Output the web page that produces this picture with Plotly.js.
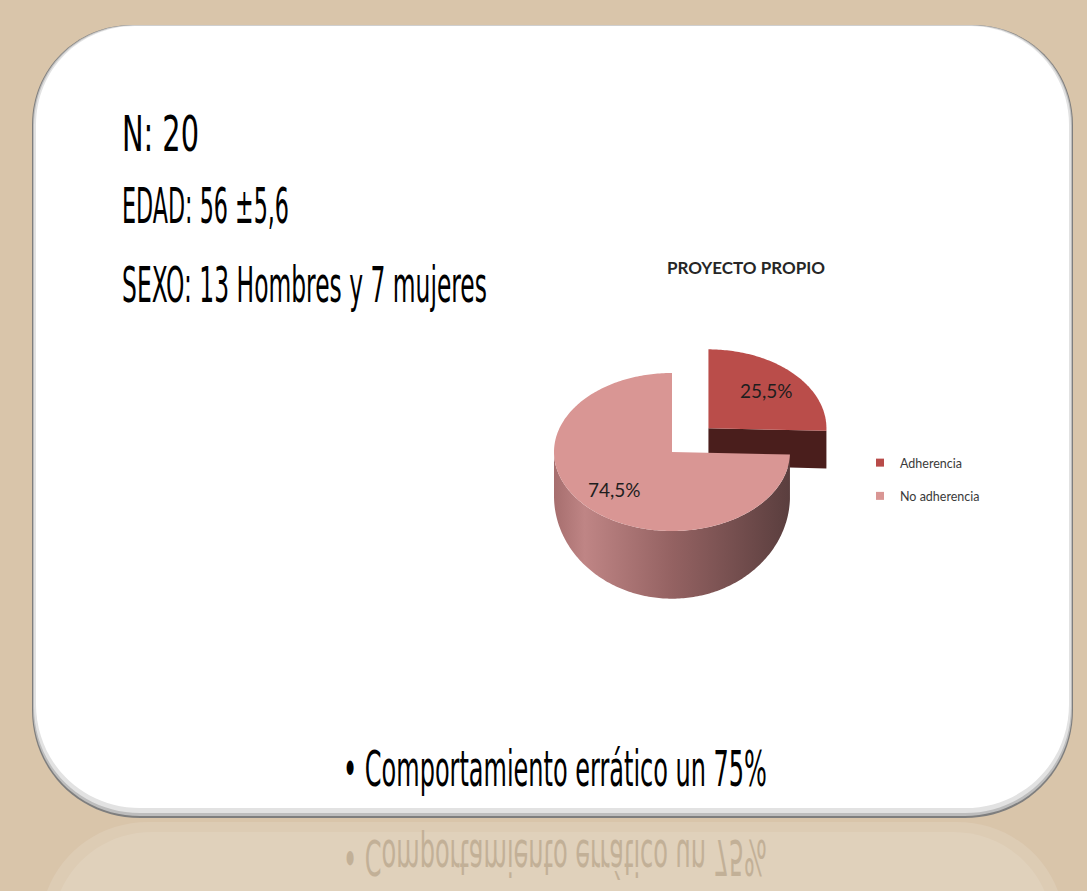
<!DOCTYPE html>
<html><head><meta charset="utf-8">
<script src="https://cdn.plot.ly/plotly-3.0.1.min.js"></script>
<style>html,body{margin:0;padding:0;background:#D9C5AA;overflow:hidden;} #chart{width:1087px;height:891px;}</style>
</head><body><div id="chart"></div>
<script>
// ---------- data ----------
const categories = ['Adherencia', 'No adherencia'];
const values = [25.5, 74.5];
const valueLabels = ['25,5%', '74,5%'];
const pullFractions = [0.43, 0];
const chartTitle = 'PROYECTO PROPIO';
const infoLines = ['N: 20', 'EDAD: 56 ±5,6', 'SEXO: 13 Hombres y 7 mujeres'];
const bulletText = '• Comportamiento errático un 75%';

// ---------- styles ----------
const topColors = ['#BA4D4A', '#D99694'];
const faceColors = ['#4A1E1C', '#5A3838'];
const legendColors = ['#B84B49', '#D99694'];
const wallScales = [
  [[0, '#5A2322'], [1, '#3E1716']],
  [[0, '#A66E6E'], [0.13, '#BF8585'], [0.5, '#946262'], [1, '#5A3E3E']]
];
const handFont = 'DejaVu Sans Condensed, DejaVu Sans, sans-serif';
const infoBoxes = [[120, 77], [120, 167], [120, 365]];
const bulletBox = [341, 424];

const W = 1087, H = 891;
const PIE = {cx: 672, cy: 452, rx: 118, ry: 79, depth: 44, k: 0.3};
function proj(u, v, z) {
  return [PIE.cx + PIE.rx * u, PIE.cy - PIE.ry * v * (1 + PIE.k * z) + PIE.depth * z];
}
const rad = d => d * Math.PI / 180;

// ---------- build 3D pie from values ----------
const total = values.reduce((a, b) => a + b, 0);
let cum = 0;
const slices = values.map((val, i) => {
  const a0 = cum / total * 360;
  cum += val;
  const a1 = cum / total * 360;
  const mid = (a0 + a1) / 2;
  const p = pullFractions[i];
  return {i, a0, a1, mid, du: p * Math.sin(rad(mid)), dv: p * Math.cos(rad(mid))};
});

const traces = [];
function poly(pts, opts) {
  traces.push(Object.assign({
    type: 'scatter', mode: 'none', fill: 'toself',
    x: pts.map(p => p[0]), y: pts.map(p => p[1]),
    hoverinfo: 'skip', showlegend: false
  }, opts));
}
function arc(s, from, to, z) {
  const pts = [];
  const n = Math.max(2, Math.ceil(Math.abs(to - from)));
  for (let j = 0; j <= n; j++) {
    const a = rad(from + (to - from) * j / n);
    pts.push(proj(s.du + Math.sin(a), s.dv + Math.cos(a), z));
  }
  return pts;
}
const order = slices.slice().sort((a, b) => b.dv - a.dv);
order.forEach(s => {
  [[s.a1, Math.sin(rad(s.a1)) > 1e-6], [s.a0, Math.sin(rad(s.a0)) < -1e-6]].forEach(([a, vis]) => {
    if (!vis) return;
    const eu = s.du + Math.sin(rad(a)), ev = s.dv + Math.cos(rad(a));
    poly([proj(s.du, s.dv, 0), proj(eu, ev, 0), proj(eu, ev, 1), proj(s.du, s.dv, 1)],
      {fillcolor: faceColors[s.i]});
  });
  const w0 = Math.max(s.a0, 90), w1 = Math.min(s.a1, 270);
  if (w1 > w0) {
    const pts = arc(s, w0, w1, 0).concat(arc(s, w1, w0, 1));
    poly(pts, {fillcolor: wallScales[s.i][0][1],
      fillgradient: {type: 'horizontal', colorscale: wallScales[s.i]}});
  }
  const topPts = [proj(s.du, s.dv, 0)].concat(arc(s, s.a0, s.a1, 0));
  poly(topPts, {fillcolor: topColors[s.i]});
});
categories.forEach((c, i) => {
  traces.push({type: 'scatter', mode: 'markers', x: [null], y: [null], name: c,
    legendgroup: 'g' + i, showlegend: true, hoverinfo: 'skip',
    marker: {symbol: 'square', size: 8, color: legendColors[i]}});
});

// ---------- annotations ----------
const annotations = [];
slices.forEach(s => {
  const p = proj(s.du + 0.68 * Math.sin(rad(s.mid)), s.dv + 0.68 * Math.cos(rad(s.mid)), 0);
  annotations.push({x: p[0], y: p[1], xref: 'x', yref: 'y', text: valueLabels[s.i], showarrow: false,
    font: {family: 'Lato, sans-serif', size: 19, color: '#1e1e1e'}});
});
const handIdx = [];
const infoY = [134, 206, 285];
infoLines.forEach((t, i) => {
  handIdx.push({idx: annotations.length, box: infoBoxes[i], flip: false});
  annotations.push({x: infoBoxes[i][0], y: infoY[i], xref: 'x', yref: 'y', xanchor: 'left', yanchor: 'middle',
    text: t, showarrow: false, font: {family: handFont, size: 50, color: '#000'}});
});
handIdx.push({idx: annotations.length, box: bulletBox, flip: false});
annotations.push({x: bulletBox[0], y: 769, xref: 'x', yref: 'y', xanchor: 'left', text: bulletText, showarrow: false,
  font: {family: handFont, size: 50, color: '#000'}});
handIdx.push({idx: annotations.length, box: bulletBox, flip: true});
annotations.push({x: bulletBox[0], y: 857, xref: 'x', yref: 'y', xanchor: 'left', text: bulletText, showarrow: false,
  font: {family: handFont, size: 50, color: '#B9A68C'}, opacity: 0.75});

// ---------- panel shapes ----------
function rrect(x0, y0, x1, y1, rT, rB) {
  const c = 0.56;
  return `M ${x0 + rT} ${y0} L ${x1 - rT} ${y0} C ${x1 - rT + rT * c} ${y0} ${x1} ${y0 + rT - rT * c} ${x1} ${y0 + rT} ` +
    `L ${x1} ${y1 - rB} C ${x1} ${y1 - rB + rB * c} ${x1 - rB + rB * c} ${y1} ${x1 - rB} ${y1} ` +
    `L ${x0 + rB} ${y1} C ${x0 + rB - rB * c} ${y1} ${x0} ${y1 - rB + rB * c} ${x0} ${y1 - rB} ` +
    `L ${x0} ${y0 + rT} C ${x0} ${y0 + rT - rT * c} ${x0 + rT - rT * c} ${y0} ${x0 + rT} ${y0} Z`;
}
const shp = (path, fill) => ({type: 'path', xref: 'x', yref: 'y', path, fillcolor: fill,
  line: {width: 0}, layer: 'below'});
const shapes = [
  shp(rrect(40, 822, 1065, 1620, 108, 100), 'rgba(255,255,255,0.12)'),
  shp(rrect(52, 832, 1053, 1620, 100, 100), 'rgba(255,255,255,0.10)'),
  shp(rrect(32, 25, 1073, 818, 100, 108), '#7E7E7E'),
  shp(rrect(33, 25, 1072, 816, 100, 107), '#BDBDBD'),
  shp(rrect(34, 25.5, 1071, 813, 100, 106), '#E2E2E2'),
  shp(rrect(36, 26, 1069, 808, 99, 104), '#FFFFFF')
];

const layout = {
  width: W, height: H,
  margin: {l: 0, r: 0, t: 0, b: 0},
  paper_bgcolor: '#D9C5AA', plot_bgcolor: 'rgba(0,0,0,0)',
  xaxis: {range: [0, W], visible: false, fixedrange: true},
  yaxis: {range: [H, 0], visible: false, fixedrange: true},
  title: {text: '<b>' + chartTitle + '</b>', x: 746 / W, y: 1 - 268 / H, xanchor: 'center', yanchor: 'middle',
    xref: 'paper', yref: 'paper', font: {family: 'Lato, sans-serif', size: 17, color: '#262626'}},
  legend: {x: 860 / W, y: 1 - 448 / H, xanchor: 'left', yanchor: 'top', traceorder: 'grouped',
    tracegroupgap: 14, bgcolor: 'rgba(0,0,0,0)', itemwidth: 30,
    font: {family: 'Lato, sans-serif', size: 12.5, color: '#3a3a3a'}},
  shapes, annotations
};

Plotly.newPlot('chart', traces, layout, {staticPlot: true, displayModeBar: false}).then(gd => {
  const anns = gd.querySelectorAll('.annotation');
  handIdx.forEach(h => {
    const g = anns[h.idx];
    if (!g) return;
    const txt = g.querySelector('text');
    if (!txt) return;
    const bb = txt.getBBox();
    const f = h.box[1] / bb.width;
    const cy = bb.y + bb.height / 2;
    const existing = txt.getAttribute('transform') || '';
    const sy = h.flip ? -1 : 1;
    const ty = h.flip ? 2 * cy : 0;
    txt.setAttribute('transform',
      `${existing} translate(${bb.x} ${ty}) scale(${f} ${sy}) translate(${-bb.x} 0)`);
  });
});
</script>
</body></html>
